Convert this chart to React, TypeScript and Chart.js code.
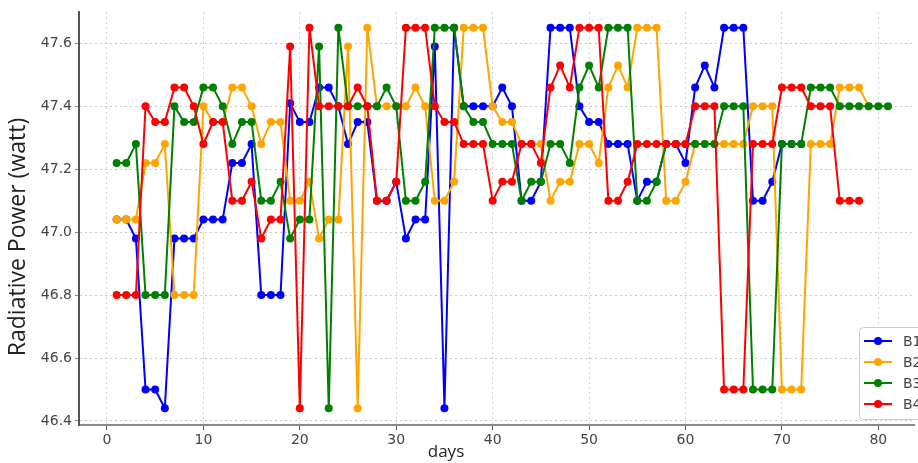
import React, { useEffect, useRef } from "react";
import { Chart, registerables } from "chart.js";

Chart.register(...registerables);

const SERIES_NAMES = ["B1", "B2", "B3", "B4"];
const SERIES_COLORS = ["#0000ff", "#ffa500", "#008000", "#ff0000"];

const B1 = [
  47.04, 47.04, 46.98, 46.5, 46.5, 46.44, 46.98, 46.98, 46.98, 47.04,
  47.04, 47.04, 47.22, 47.22, 47.28, 46.8, 46.8, 46.8, 47.41, 47.35,
  47.35, 47.46, 47.46, 47.4, 47.28, 47.35, 47.35, 47.1, 47.1, 47.16,
  46.98, 47.04, 47.04, 47.59, 46.44, 47.65, 47.4, 47.4, 47.4, 47.4,
  47.46, 47.4, 47.1, 47.1, 47.16, 47.65, 47.65, 47.65, 47.4, 47.35,
  47.35, 47.28, 47.28, 47.28, 47.1, 47.16, 47.16, 47.28, 47.28, 47.22,
  47.46, 47.53, 47.46, 47.65, 47.65, 47.65, 47.1, 47.1, 47.16, 47.28,
  47.28, 47.28,
];
const B2 = [
  47.04, 47.04, 47.04, 47.22, 47.22, 47.28, 46.8, 46.8, 46.8, 47.4,
  47.35, 47.35, 47.46, 47.46, 47.4, 47.28, 47.35, 47.35, 47.1, 47.1,
  47.16, 46.98, 47.04, 47.04, 47.59, 46.44, 47.65, 47.4, 47.4, 47.4,
  47.4, 47.46, 47.4, 47.1, 47.1, 47.16, 47.65, 47.65, 47.65, 47.4,
  47.35, 47.35, 47.28, 47.28, 47.28, 47.1, 47.16, 47.16, 47.28, 47.28,
  47.22, 47.46, 47.53, 47.46, 47.65, 47.65, 47.65, 47.1, 47.1, 47.16,
  47.28, 47.28, 47.28, 47.28, 47.28, 47.28, 47.4, 47.4, 47.4, 46.5,
  46.5, 46.5, 47.28, 47.28, 47.28, 47.46, 47.46, 47.46, 47.4,
];
const B3 = [
  47.22, 47.22, 47.28, 46.8, 46.8, 46.8, 47.4, 47.35, 47.35, 47.46,
  47.46, 47.4, 47.28, 47.35, 47.35, 47.1, 47.1, 47.16, 46.98, 47.04,
  47.04, 47.59, 46.44, 47.65, 47.4, 47.4, 47.4, 47.4, 47.46, 47.4,
  47.1, 47.1, 47.16, 47.65, 47.65, 47.65, 47.4, 47.35, 47.35, 47.28,
  47.28, 47.28, 47.1, 47.16, 47.16, 47.28, 47.28, 47.22, 47.46, 47.53,
  47.46, 47.65, 47.65, 47.65, 47.1, 47.1, 47.16, 47.28, 47.28, 47.28,
  47.28, 47.28, 47.28, 47.4, 47.4, 47.4, 46.5, 46.5, 46.5, 47.28,
  47.28, 47.28, 47.46, 47.46, 47.46, 47.4, 47.4, 47.4, 47.4, 47.4,
  47.4,
];
const B4 = [
  46.8, 46.8, 46.8, 47.4, 47.35, 47.35, 47.46, 47.46, 47.4, 47.28,
  47.35, 47.35, 47.1, 47.1, 47.16, 46.98, 47.04, 47.04, 47.59, 46.44,
  47.65, 47.4, 47.4, 47.4, 47.4, 47.46, 47.4, 47.1, 47.1, 47.16,
  47.65, 47.65, 47.65, 47.4, 47.35, 47.35, 47.28, 47.28, 47.28, 47.1,
  47.16, 47.16, 47.28, 47.28, 47.22, 47.46, 47.53, 47.46, 47.65, 47.65,
  47.65, 47.1, 47.1, 47.16, 47.28, 47.28, 47.28, 47.28, 47.28, 47.28,
  47.4, 47.4, 47.4, 46.5, 46.5, 46.5, 47.28, 47.28, 47.28, 47.46,
  47.46, 47.46, 47.4, 47.4, 47.4, 47.1, 47.1, 47.1,
];
const SERIES = [B1, B2, B3, B4];

const X_TICKS = [0, 10, 20, 30, 40, 50, 60, 70, 80];
const Y_TICKS = [46.4, 46.6, 46.8, 47.0, 47.2, 47.4, 47.6];
const X_TITLE = "days";
const Y_TITLE = "Radiative Power (watt)";

const titlesAndLegend = {
  id: "titlesAndLegend",
  afterDraw(chart: any) {
    const ctx = chart.ctx;
    ctx.save();
    ctx.fillStyle = "#222";
    ctx.font = '23px "Open Sans"';
    ctx.textAlign = "center";
    ctx.textBaseline = "middle";
    ctx.translate(18, 237);
    ctx.rotate(-Math.PI / 2);
    ctx.fillText(Y_TITLE, 0, 0);
    ctx.restore();

    ctx.save();
    ctx.fillStyle = "#222";
    ctx.font = '17px "Open Sans"';
    ctx.textAlign = "center";
    ctx.textBaseline = "middle";
    ctx.fillText(X_TITLE, 446, 452);
    ctx.restore();

    ctx.save();
    const bx = 859, by = 327, bw = 80, bh = 92;
    ctx.fillStyle = "rgba(255,255,255,0.85)";
    ctx.strokeStyle = "#cccccc";
    ctx.lineWidth = 1;
    ctx.beginPath();
    (ctx as any).roundRect(bx + 0.5, by + 0.5, bw, bh, 4);
    ctx.fill();
    ctx.stroke();
    chart.data.datasets.forEach((ds: any, i: number) => {
      const y = by + 14 + i * 21;
      ctx.strokeStyle = ds.borderColor;
      ctx.lineWidth = 2;
      ctx.beginPath();
      ctx.moveTo(864, y);
      ctx.lineTo(892, y);
      ctx.stroke();
      ctx.fillStyle = ds.backgroundColor;
      ctx.beginPath();
      ctx.arc(878, y, 4, 0, Math.PI * 2);
      ctx.fill();
      ctx.fillStyle = "#444";
      ctx.font = '14px "DejaVu Sans"';
      ctx.textAlign = "left";
      ctx.textBaseline = "middle";
      ctx.fillText(ds.label, 903, y + 1);
    });
    ctx.restore();
  },
};

export default function App() {
  const ref = useRef<HTMLCanvasElement>(null);
  useEffect(() => {
    document.body.style.margin = "0";
    if (!ref.current) return;
    const datasets = SERIES.map((vals, i) => ({
      label: SERIES_NAMES[i],
      data: vals.map((v, j) => ({ x: j + 1, y: v })),
      borderColor: SERIES_COLORS[i],
      backgroundColor: SERIES_COLORS[i],
      pointBackgroundColor: SERIES_COLORS[i],
      pointBorderColor: SERIES_COLORS[i],
      borderWidth: 2,
      pointRadius: 4,
      pointBorderWidth: 0,
      tension: 0,
      order: SERIES.length - i,
    }));
    const chart = new Chart(ref.current, {
      type: "line",
      data: { datasets },
      options: {
        animation: false,
        responsive: false,
        layout: { padding: { top: 12, left: 0, right: 0, bottom: 0 } },
        plugins: { legend: { display: false }, tooltip: { enabled: false } },
        scales: {
          x: {
            type: "linear",
            min: -2.9,
            max: 83.7,
            afterBuildTicks: (s: any) => {
              s.ticks = X_TICKS.map((v) => ({ value: v }));
            },
            afterFit: (s: any) => {
              s.height = 38;
            },
            ticks: {
              color: "#444",
              font: { family: "DejaVu Sans", size: 14 },
              padding: 2,
              maxRotation: 0,
              autoSkip: false,
            },
            grid: {
              color: "#d4d4d4",
              lineWidth: 1,
              tickLength: 5,
              tickColor: "#666",
            },
            border: { color: "#888", width: 2, dash: [2, 3] },
          },
          y: {
            type: "linear",
            min: 46.387,
            max: 47.7,
            afterBuildTicks: (s: any) => {
              s.ticks = Y_TICKS.map((v) => ({ value: v }));
            },
            afterFit: (s: any) => {
              s.width = 79;
            },
            ticks: {
              color: "#444",
              font: { family: "DejaVu Sans", size: 14 },
              padding: 3,
              callback: (v: any) => Number(v).toFixed(1),
            },
            grid: {
              color: "#c8c8c8",
              lineWidth: 1,
              tickLength: 4,
              tickColor: "#888",
            },
            border: { color: "#555", width: 2, dash: [2, 3] },
          },
        },
      },
      plugins: [titlesAndLegend],
    });
    return () => chart.destroy();
  }, []);
  return <canvas ref={ref} width={918} height={463} />;
}
